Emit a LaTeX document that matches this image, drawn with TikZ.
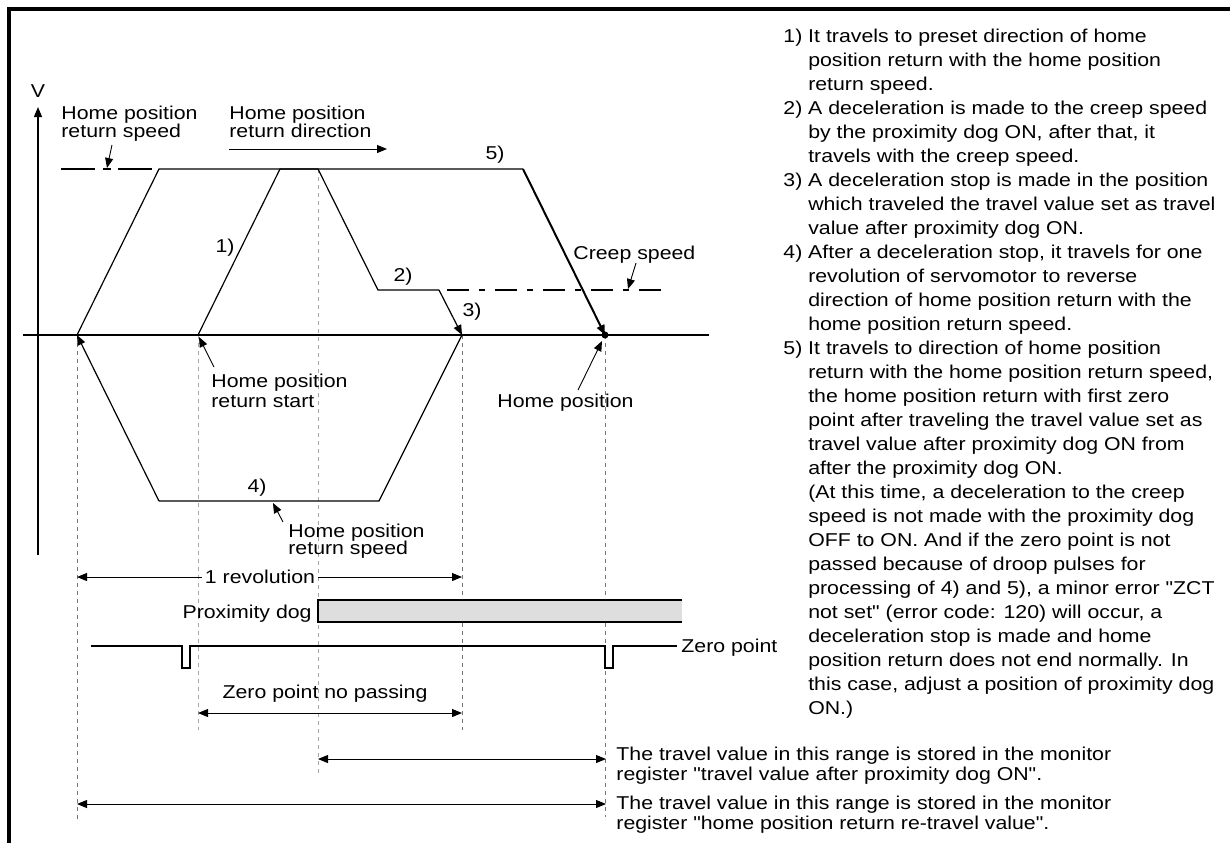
\documentclass[tikz,border=0pt]{standalone}
\usepackage{fontspec}
\setmainfont{Liberation Sans}[FakeStretch=1.145, Ligatures=TeXOff]
\usetikzlibrary{arrows.meta}
\newcommand\mystack[2]{\vtop{\baselineskip=#1\lineskiplimit=-1000pt\lineskip=0pt\halign{##\hfil&&##\hfil\cr#2\crcr}}}
\begin{document}
\begin{tikzpicture}[x=0.5pt,y=-0.5pt,
  font=\fontsize{9.3pt}{9pt}\selectfont,
  >={Triangle[length=5pt,width=4pt]},
  ln/.style={line width=0.6pt},
  thk/.style={line width=1pt},
  th/.style={line width=0.45pt},
  vd/.style={line width=0.45pt, draw=black!55, dash pattern=on 2pt off 2pt},
  vdl/.style={line width=0.45pt, draw=black!35, dash pattern=on 2pt off 2pt},
  lab/.style={inner sep=0pt}]
\useasboundingbox (0,0) rectangle (1230,843);
% frame
\coordinate (fr1) at (1230,9);
\coordinate (fr2) at (9,9);
\coordinate (fr3) at (9,843);
\draw[line width=2pt] (fr1) -- (fr2) -- (fr3);
% vertical dashed guides
\draw[vd]  (77,335) -- (77,823);
\draw[vdl] (198,335) -- (198,730);
\draw[vdl] (318,169) -- (318,773);
\draw[vd]  (462,335) -- (462,730);
\draw[vd]  (605,335) -- (605,817);
% axes
\coordinate (vb) at (38,555);
\coordinate (vt) at (38,107);
\draw[ln,->] (vb) -- (vt);
\node[lab] (V) at (38,91) {V};
\coordinate (hl) at (23,335);
\coordinate (hr) at (709,335);
\draw[ln] (hl) -- (hr);
% key points
\coordinate (A) at (77,335);
\coordinate (B) at (159,169);
\coordinate (C) at (523,169);
\coordinate (Hp) at (605,335);
\coordinate (S) at (198,335);
\coordinate (D) at (280,169);
\coordinate (E) at (318,169);
\coordinate (F) at (378,290);
\coordinate (G) at (439,290);
\coordinate (St) at (462,335);
\coordinate (J) at (379,501);
\coordinate (K) at (159,501);
% profile
\draw[ln] (S) -- (D) -- (E) -- (F) -- (G);
\draw[ln,->] (G) -- (St);
\draw[ln] (St) -- (J) -- (K);
\draw[ln,->] (K) -- (A);
\draw[ln] (A) -- (B) -- (C);
\draw[thk,->] (C) -- (Hp);
\fill (Hp) circle[radius=1.75pt];
% speed dashed lines
\coordinate (sp1) at (61,169);
\coordinate (sp2) at (152,169);
\draw[ln, dash pattern=on 17pt off 4pt on 4pt off 3.5pt] (sp1) -- (sp2);
\coordinate (cr1) at (447,290);
\coordinate (cr2) at (666,290);
\draw[ln, dash pattern=on 11pt off 5pt on 3pt off 5pt] (cr1) -- (cr2);
% labels on profile
\node[lab, anchor=base west] (lhs) at (61,119) {\mystack{9pt}{Home position\cr return speed}};
\coordinate (a1s) at (112,145);
\coordinate (a1e) at (107,168);
\draw[th,->] (a1s) -- (a1e);
\node[lab, anchor=base west] (ldir) at (229,119) {\mystack{9pt}{Home position\cr return direction}};
\coordinate (d1) at (229,149);
\coordinate (d2) at (387,149);
\draw[th,->] (d1) -- (d2);
\node[lab] (n5) at (495,155) {5)};
\node[lab] (n1) at (225,248) {1)};
\node[lab] (n2) at (403,277) {2)};
\node[lab] (n3) at (472,312) {3)};
\node[lab] (n4) at (257,488) {4)};
\node[lab, anchor=base west] (lcreep) at (573,259) {Creep speed};
\coordinate (c1) at (636,263);
\coordinate (c2) at (628,289);
\draw[th,->] (c1) -- (c2);
\node[lab, anchor=base west] (lstart) at (211,387) {\mystack{10pt}{Home position\cr return start}};
\coordinate (s1) at (214,367);
\coordinate (s2) at (199,337);
\draw[th,->] (s1) -- (s2);
\node[lab, anchor=base west] (lhs2) at (288,537) {\mystack{8.5pt}{Home position\cr return speed}};
\coordinate (l1) at (283,522);
\coordinate (l2) at (273,503);
\draw[th,->] (l1) -- (l2);
\node[lab, anchor=base west] (lhome) at (497,407) {Home position};
\coordinate (h1) at (578,390);
\coordinate (h2) at (602,341);
\draw[th,->] (h1) -- (h2);
% 1 revolution
\node[inner sep=1.5pt] (lrev) at (260,577) {1 revolution};
\coordinate (r1) at (77,577);
\coordinate (r2) at (462,577);
\draw[th,->] (lrev.west) -- (r1);
\draw[th,->] (lrev.east) -- (r2);
% proximity dog
\node[lab, anchor=base east] (lprox) at (312,618) {Proximity dog};
\coordinate (p1) at (682,600);
\coordinate (p2) at (318,600);
\coordinate (p3) at (318,622);
\coordinate (p4) at (682,622);
\fill[black!13] (p2) rectangle (p4);
\draw[ln] (p1) -- (p2) -- (p3) -- (p4);
% zero point signal
\node[lab, anchor=west] (lzero) at (681,648) {Zero point};
\coordinate (z0) at (91,646);
\coordinate (z9) at (677,646);
\draw[ln] (z0) -- (182,646) -- (182,668) -- (190,668) -- (190,646) -- (605,646) -- (605,668) -- (613,668) -- (613,646) -- (z9);
% zero point no passing
\node[lab] (lzp) at (325,694) {Zero point no passing};
\coordinate (zp1) at (198,713);
\coordinate (zp2) at (462,713);
\draw[th,<->] (zp1) -- (zp2);
% bottom ranges
\coordinate (b1) at (318,759);
\coordinate (b2) at (606,759);
\draw[th,<->] (b1) -- (b2);
\coordinate (b3) at (77,804);
\coordinate (b4) at (606,804);
\draw[th,<->] (b3) -- (b4);
\node[lab, anchor=base west] (t1) at (616,760) {\mystack{10pt}{The travel value in this range is stored in the monitor\cr register "travel value after proximity dog ON".}};
\node[lab, anchor=base west] (t2) at (616,809) {\mystack{10pt}{The travel value in this range is stored in the monitor\cr register "home position return re-travel value".}};
% description
\node[lab, anchor=base west] (desc) at (783,42) {\mystack{12pt}{%
1)\ & It travels to preset direction of home\cr
& position return with the home position\cr
& return speed.\cr
2)\ & A deceleration is made to the creep speed\cr
& by the proximity dog ON, after that, it\cr
& travels with the creep speed.\cr
3)\ & A deceleration stop is made in the position\cr
& which traveled the travel value set as travel\cr
& value after proximity dog ON.\cr
4)\ & After a deceleration stop, it travels for one\cr
& revolution of servomotor to reverse\cr
& direction of home position return with the\cr
& home position return speed.\cr
5)\ & It travels to direction of home position\cr
& return with the home position return speed,\cr
& the home position return with first zero\cr
& point after traveling the travel value set as\cr
& travel value after proximity dog ON from\cr
& after the proximity dog ON.\cr
& (At this time, a deceleration to the creep\cr
& speed is not made with the proximity dog\cr
& OFF to ON. And if the zero point is not\cr
& passed because of droop pulses for\cr
& processing of 4) and 5), a minor error "ZCT\cr
& not set" (error code: 120) will occur, a\cr
& deceleration stop is made and home\cr
& position return does not end normally. In\cr
& this case, adjust a position of proximity dog\cr
& ON.)}};
\end{tikzpicture}
\end{document}
